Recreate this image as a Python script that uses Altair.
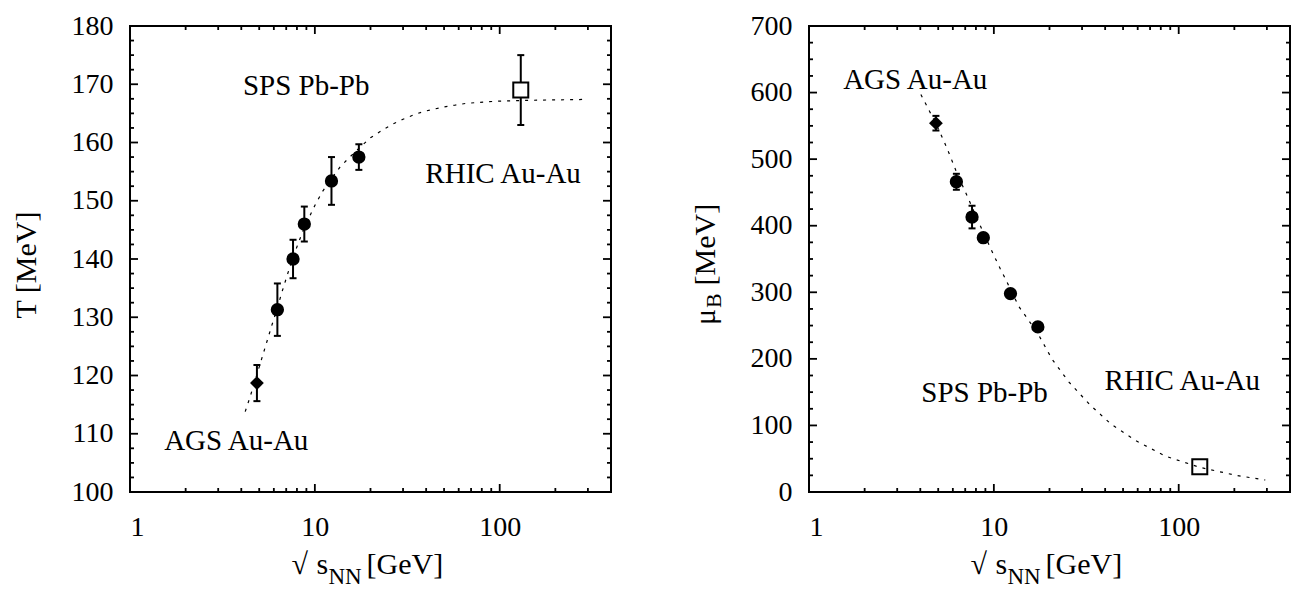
import altair as alt
import pandas as pd

FONT = "Liberation Serif"

# ---------------- data ----------------
ags_x = [4.86]
sps_x = [6.27, 7.62, 8.77, 12.3, 17.3]
rhic_x = [130.0]

T_ags = [118.7]
T_ags_err = [3.1]
T_sps = [131.3, 140.0, 146.0, 153.4, 157.5]
T_sps_err = [4.5, 3.3, 3.0, 4.1, 2.2]
T_rhic = [169.0]
T_rhic_err = [6.0]

mu_ags = [554.0]
mu_ags_err = [11.0]
mu_sps = [466.0, 413.0, 382.0, 298.0, 248.0]
mu_sps_err = [12.0, 17.0, 6.0, 6.0, 6.0]
mu_rhic = [38.0]
mu_rhic_err = [5.0]

T_curve_x = [4.2, 4.46, 4.8, 5.16, 5.5, 5.85, 6.27, 6.62, 7.1, 7.62, 8.2, 8.77,
             10.0, 11.0, 12.3, 13.7, 15.0, 17.3, 20.0, 23.4, 26.5, 30.0, 34.0,
             38.5, 43.6, 50.0, 57.1, 65.2, 74.8, 85.7, 100.0, 130.0, 180.0, 240.0, 295.0]
T_curve_y = [113.8, 116.3, 119.6, 122.9, 125.8, 128.6, 131.6, 134.2, 137.3, 140.3, 143.0, 145.4,
             149.2, 151.6, 153.8, 155.8, 157.1, 159.0, 160.8, 162.2, 163.2, 164.0, 164.7,
             165.3, 165.7, 166.1, 166.4, 166.7, 166.85, 167.0, 167.1, 167.2, 167.3, 167.35, 167.4]

mu_curve_x = [4.03, 4.3, 4.6, 4.86, 5.37, 5.72, 6.27, 6.8, 7.22, 7.62, 8.2, 8.77,
              9.75, 10.8, 11.7, 12.3, 13.7, 15.5, 17.3, 20.7, 25.5, 33.1, 43.0,
              58.7, 84.5, 130.0, 205.0, 294.0]
mu_curve_y = [597, 582, 566, 553, 527, 509, 481, 459, 443, 428, 408, 390,
              362, 336, 317, 304, 278, 257, 238, 199, 165, 131, 102,
              77, 54, 37, 25, 18]

ann_text = ["SPS Pb-Pb", "RHIC Au-Au", "AGS Au-Au"]
ann_T_x = [4.08, 39.6, 1.53]
ann_T_y = [168.1, 153.1, 107.2]
ann_mu_x = [4.05, 39.7, 1.53]
ann_mu_y = [134.8, 153.8, 604.8]

x_major = [1, 10, 100]
x_minor = [2, 3, 4, 5, 6, 7, 8, 9, 20, 30, 40, 50, 60, 70, 80, 90, 200, 300]
T_major = [100, 110, 120, 130, 140, 150, 160, 170, 180]
T_minor = [100 + 2.5 * i for i in range(33) if i % 4]
mu_major = [0, 100, 200, 300, 400, 500, 600, 700]
mu_minor = [25 * i for i in range(29) if i % 4]

W, H = 481, 466
MAJ, MIN = 8, 4
YT = -94          # y-title baseline offset from plot's left edge
XT = 82           # x-title baseline offset below plot's bottom edge


def text_layer(txt, x, y, size=30, angle=0, align="left", baseline="alphabetic"):
    kw = dict(font=FONT, fontSize=size, color="black", align=align, baseline=baseline)
    if angle:
        kw["angle"] = angle
    return alt.Chart(pd.DataFrame({"t": [txt]})).mark_text(**kw).encode(
        x=alt.value(x), y=alt.value(y), text="t:N")


def make_panel(yv, yerr, cx, cy, ydom, ymaj, ymin, ax, ay, ytitle_layers):
    xs = alt.Scale(type="log", domain=[1, 400], nice=False)
    ys = alt.Scale(domain=ydom, nice=False, zero=False)
    xax = alt.Axis(values=x_major, format="d", ticks=False, tickSize=0, domain=False,
                   grid=False, labelFont=FONT, labelFontSize=28, labelColor="black",
                   labelPadding=21, title=None)
    yax = alt.Axis(values=ymaj, format="d", ticks=False, tickSize=0, domain=False,
                   grid=False, labelFont=FONT, labelFontSize=28, labelColor="black",
                   labelPadding=17, title=None)

    def X(f):
        return alt.X(f, type="quantitative", scale=xs, axis=xax)

    def Y(f):
        return alt.Y(f, type="quantitative", scale=ys, axis=yax)

    xall = ags_x + sps_x + rhic_x
    kinds = ["ags"] * len(ags_x) + ["sps"] * len(sps_x) + ["rhic"] * len(rhic_x)
    pts = pd.DataFrame({
        "x": xall, "y": yv, "lo": [v - e for v, e in zip(yv, yerr)],
        "hi": [v + e for v, e in zip(yv, yerr)], "kind": kinds})
    caps = pd.DataFrame({"x": xall + xall, "y": list(pts["lo"]) + list(pts["hi"])})
    curve = pd.DataFrame({"x": cx, "y": cy})
    ann = pd.DataFrame({"x": ax, "y": ay, "t": ann_text})

    xmaj = pd.DataFrame({"v": x_major})
    xmin = pd.DataFrame({"v": x_minor})
    ymajd = pd.DataFrame({"v": ymaj})
    ymind = pd.DataFrame({"v": ymin})

    layers = []
    for d, L in ((xmaj, MAJ), (xmin, MIN)):
        base = alt.Chart(d).mark_rule(color="black", strokeWidth=1.8)
        layers.append(base.encode(x=X("v"), y=alt.value(H), y2=alt.value(H - L)))
        layers.append(base.encode(x=X("v"), y=alt.value(0), y2=alt.value(L)))
    for d, L in ((ymajd, MAJ), (ymind, MIN)):
        base = alt.Chart(d).mark_rule(color="black", strokeWidth=1.8)
        layers.append(base.encode(y=Y("v"), x=alt.value(0), x2=alt.value(L)))
        layers.append(base.encode(y=Y("v"), x=alt.value(W - L), x2=alt.value(W)))

    layers.append(alt.Chart(pts).mark_rule(color="black", strokeWidth=2).encode(
        x=X("x"), y=Y("lo"), y2="hi"))
    layers.append(alt.Chart(caps).mark_rule(color="black", strokeWidth=2,
                                            xOffset=-3.5, x2Offset=3.5).encode(
        x=X("x"), x2="x", y=Y("y")))
    layers.append(alt.Chart(pts).transform_filter(alt.datum.kind == "rhic").mark_point(
        shape="square", filled=True, fill="white", stroke="black", strokeWidth=2,
        size=225, opacity=1).encode(x=X("x"), y=Y("y")))
    layers.append(alt.Chart(curve).mark_line(color="black", strokeWidth=1.2,
                                             strokeDash=[3, 6]).encode(
        x=X("x"), y=Y("y")))
    layers.append(alt.Chart(pts).transform_filter(alt.datum.kind == "sps").mark_circle(
        size=177, color="black", opacity=1).encode(x=X("x"), y=Y("y")))
    layers.append(alt.Chart(pts).transform_filter(alt.datum.kind == "ags").mark_point(
        shape="diamond", filled=True, color="black", size=190, opacity=1).encode(
        x=X("x"), y=Y("y")))
    layers.append(alt.Chart(ann).mark_text(font=FONT, fontSize=29, color="black",
                                           align="left", baseline="alphabetic").encode(
        x=X("x"), y=Y("y"), text="t:N"))

    # x-axis title: sqrt s_NN [GeV]
    xb = H + XT
    layers.append(text_layer("\u221a", W / 2 - 79, xb))
    layers.append(text_layer("s", W / 2 - 54, xb))
    layers.append(text_layer("NN", W / 2 - 42, xb + 10, size=23))
    layers.append(text_layer("[GeV]", W / 2 - 4, xb))
    layers.extend(ytitle_layers)

    return alt.layer(*layers).properties(width=W, height=H)


left_title = [text_layer("T [MeV]", YT, H / 2 + 6, angle=270, align="center")]
y0 = H / 2 + 66
right_title = [
    text_layer("\u03bc", YT, y0, angle=270),
    text_layer("B", YT + 6, y0 - 17, size=22, angle=270),
    text_layer("[MeV]", YT, y0 - 17 - 15 - 7.5, angle=270),
]

left = make_panel(T_ags + T_sps + T_rhic, T_ags_err + T_sps_err + T_rhic_err,
                  T_curve_x, T_curve_y, [100, 180], T_major, T_minor,
                  ann_T_x, ann_T_y, left_title)
right = make_panel(mu_ags + mu_sps + mu_rhic, mu_ags_err + mu_sps_err + mu_rhic_err,
                   mu_curve_x, mu_curve_y, [0, 700], mu_major, mu_minor,
                   ann_mu_x, ann_mu_y, right_title)

chart = alt.hconcat(left, right, spacing=198, bounds="flush").properties(
    padding={"left": 3, "top": 3, "right": 0, "bottom": 0}
).configure_view(stroke="black", strokeWidth=2)

chart.save("out.html", embed_options={"renderer": "svg", "actions": False})
